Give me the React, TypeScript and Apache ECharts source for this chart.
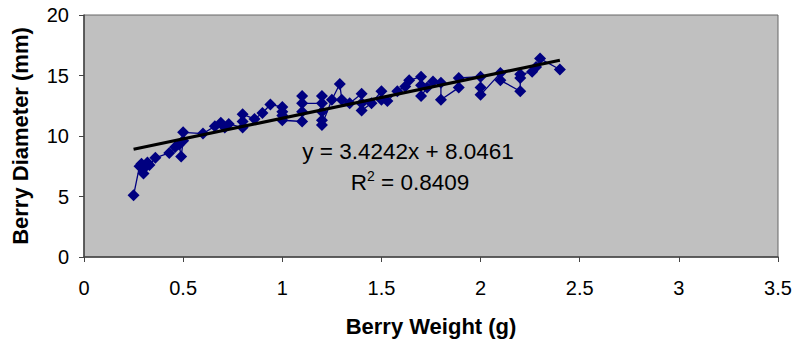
import React, { useEffect, useRef } from "react";
import * as echarts from "echarts";

// Berry weight (g) and berry diameter (mm), in plotted order
const weights = [
  0.25, 0.28, 0.29, 0.3, 0.3, 0.32, 0.33, 0.36, 0.43, 0.46, 0.48, 0.49, 0.5, 0.5,
  0.6, 0.66, 0.69, 0.71, 0.73, 0.8, 0.8, 0.8, 0.86, 0.9, 0.94,
  1.0, 1.0, 1.0, 1.0, 1.1, 1.1, 1.1, 1.1, 1.2, 1.2, 1.2, 1.2, 1.2,
  1.25, 1.29, 1.3, 1.34, 1.4, 1.4, 1.4, 1.45, 1.5, 1.5, 1.53, 1.58, 1.62, 1.64,
  1.7, 1.7, 1.7, 1.73, 1.76, 1.8, 1.8, 1.89, 1.89, 2.0, 2.0, 2.0,
  2.1, 2.1, 2.2, 2.2, 2.2, 2.26, 2.28, 2.3, 2.4,
];
const diameters = [
  5.1, 7.5, 7.7, 6.9, 7.3, 7.8, 7.6, 8.2, 8.6, 9.1, 9.3, 8.3, 9.6, 10.3,
  10.2, 10.8, 11.1, 10.7, 11.0, 10.7, 11.2, 11.8, 11.4, 11.9, 12.6,
  12.4, 12.0, 11.7, 11.3, 11.2, 12.0, 13.3, 12.7, 12.7, 13.3, 12.0, 11.3, 10.9,
  13.0, 14.3, 13.0, 12.7, 13.5, 12.7, 12.1, 12.7, 13.7, 13.0, 12.9, 13.7, 14.1, 14.6,
  14.9, 14.2, 13.3, 14.0, 14.5, 14.4, 13.0, 14.0, 14.8, 14.9, 14.0, 13.4,
  15.2, 14.6, 13.7, 14.8, 15.1, 15.3, 15.7, 16.4, 15.5,
];

// Linear trendline reported on the chart
const trendSlope = 3.4242;
const trendIntercept = 8.0461;
const trendR2 = 0.8409;

const xTickInterval = 0.5;
const xMax = 3.5;
const yTickInterval = 5;
const yMax = 20;

const FONT = "'Liberation Sans', Arial, sans-serif";

export default function App() {
  const ref = useRef<HTMLDivElement>(null);

  useEffect(() => {
    document.body.style.margin = "0";
    if (!ref.current) return;
    const chart = echarts.init(ref.current, undefined, { renderer: "svg" });

    const points = weights.map((w, i) => [w, diameters[i]]);
    const xMin = Math.min(...weights);
    const xMaxData = Math.max(...weights);
    const trend = [
      [xMin, trendSlope * xMin + trendIntercept],
      [xMaxData, trendSlope * xMaxData + trendIntercept],
    ];

    const axisColor = "#444";

    chart.setOption({
      animation: false,
      grid: {
        left: 84,
        right: 18,
        top: 15,
        bottom: 89,
        show: true,
        backgroundColor: "#C0C0C0",
        borderColor: "#666",
        borderWidth: 1,
      },
      xAxis: {
        type: "value",
        min: 0,
        max: xMax,
        interval: xTickInterval,
        name: "Berry Weight (g)",
        nameLocation: "middle",
        nameGap: 58,
        nameTextStyle: { fontFamily: FONT, fontWeight: "bold", fontSize: 22, color: "#000" },
        axisLine: { show: true, lineStyle: { color: axisColor, width: 1.5 } },
        axisTick: { show: true, length: 5, lineStyle: { color: axisColor } },
        axisLabel: { fontFamily: FONT, fontSize: 20, color: "#000", margin: 21 },
        splitLine: { show: false },
      },
      yAxis: {
        type: "value",
        min: 0,
        max: yMax,
        interval: yTickInterval,
        name: "Berry Diameter (mm)",
        nameLocation: "middle",
        nameGap: 53,
        nameTextStyle: { fontFamily: FONT, fontWeight: "bold", fontSize: 22, color: "#000" },
        axisLine: { show: true, lineStyle: { color: axisColor, width: 1.5 } },
        axisTick: { show: true, length: 5, lineStyle: { color: axisColor } },
        axisLabel: { fontFamily: FONT, fontSize: 20, color: "#000", margin: 15 },
        splitLine: { show: false },
      },
      series: [
        {
          type: "line",
          data: points,
          symbol: "diamond",
          symbolSize: 12,
          showAllSymbol: true,
          itemStyle: { color: "#000080" },
          lineStyle: { color: "#000080", width: 1.3 },
          z: 2,
        },
        {
          type: "line",
          data: trend,
          symbol: "none",
          lineStyle: { color: "#000", width: 3.2 },
          z: 3,
        },
      ],
      graphic: [
        {
          type: "text",
          x: 408,
          y: 151,
          style: {
            text: `y = ${trendSlope}x + ${trendIntercept}`,
            font: `22.5px ${FONT}`,
            fill: "#000",
            textAlign: "center",
            textVerticalAlign: "middle",
          },
        },
        {
          type: "text",
          x: 410,
          y: 182,
          style: {
            text: `{a|R}{s|2}{a| = ${trendR2}}`,
            textAlign: "center",
            textVerticalAlign: "middle",
            rich: {
              a: { fontFamily: FONT, fontSize: 22.5, color: "#000", lineHeight: 26 },
              s: { fontFamily: FONT, fontSize: 14, color: "#000", verticalAlign: "top", lineHeight: 26 },
            },
          },
        },
      ],
    });

    return () => chart.dispose();
  }, []);

  return <div ref={ref} style={{ width: 796, height: 346 }} />;
}
